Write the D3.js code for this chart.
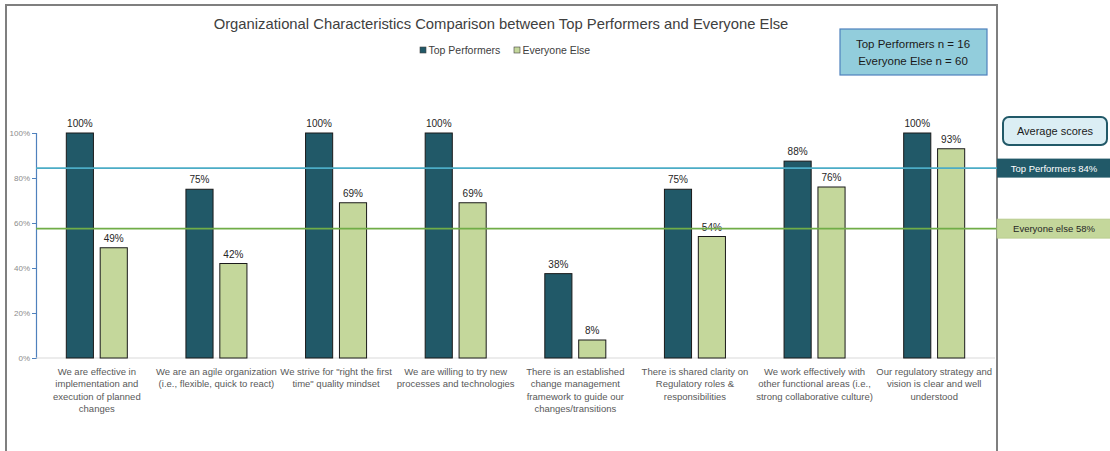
<!DOCTYPE html>
<html>
<head>
<meta charset="utf-8">
<script src="https://cdn.jsdelivr.net/npm/d3@7"></script>
<style>
  body { margin: 0; background: #fff; }
  svg { font-family: "Liberation Sans", Arial, sans-serif; }
</style>
</head>
<body>
<script>
// data
var categories = [
    ["We are effective in", "implementation and", "execution of planned", "changes"],
    ["We are an agile organization", "(i.e., flexible, quick to react)"],
    ["We strive for \"right the first", "time\" quality mindset"],
    ["We are willing to try new", "processes and technologies"],
    ["There is an established", "change management", "framework to guide our", "changes/transitions"],
    ["There is shared clarity on", "Regulatory roles &", "responsibilities"],
    ["We work effectively with", "other functional areas (i.e.,", "strong collaborative culture)"],
    ["Our regulatory strategy and", "vision is clear and well", "understood"]
];
var topPerformers = [100, 75, 100, 100, 37.5, 75, 87.5, 100];
var everyoneElse = [49, 42, 69, 69, 8, 54, 76, 93];
var seriesNames = ["Top Performers", "Everyone Else"];
var averages = [84.4, 57.5];
var averageLabels = ["Top Performers 84%", "Everyone else 58%"];
var yTicks = [0, 20, 40, 60, 80, 100];

var width = 1110, height = 451,
    color_top = "#215968", color_else = "#c4d79b",
    line_top = "#4bacc6", line_else = "#70ad47";

var svg = d3.select("body").append("svg")
    .attr("width", width)
    .attr("height", height);

// outer chart frame
svg.append("rect")
    .attr("x", 6).attr("y", 5)
    .attr("width", 991).attr("height", 470)
    .attr("fill", "#fff")
    .attr("stroke", "#7f7f7f")
    .attr("stroke-width", 2);

var xScale0 = d3.scaleBand().domain(d3.range(categories.length))
    .range([37, 994]).paddingInner(0.49).paddingOuter(0.245);
var xScale1 = d3.scaleBand().domain(["top", "else"])
    .range([0, xScale0.bandwidth()]).paddingInner(0.2).paddingOuter(0);
var yScale = d3.scaleLinear().domain([0, 100]).range([358, 133]);

// title
svg.append("text")
    .attr("x", 501).attr("y", 29)
    .attr("text-anchor", "middle")
    .style("font-size", "14.8px")
    .style("fill", "#404040")
    .text("Organizational Characteristics Comparison between Top Performers and Everyone Else");

// legend
var legend = svg.append("g").attr("transform", "translate(420,47)");
[color_top, color_else].forEach(function (c, i) {
    var lx = i === 0 ? 0 : 94;
    legend.append("rect")
        .attr("x", lx).attr("y", 0)
        .attr("width", 6).attr("height", 6)
        .attr("fill", c).attr("stroke", "#404040").attr("stroke-width", 0.6);
    legend.append("text")
        .attr("x", lx + 8.5).attr("y", 6.5)
        .style("font-size", "10.5px")
        .style("fill", "#404040")
        .text(seriesNames[i]);
});

// n box
var nBox = svg.append("g");
nBox.append("rect")
    .attr("x", 840).attr("y", 29)
    .attr("width", 147).attr("height", 46)
    .attr("fill", "#92cddc")
    .attr("stroke", "#4f81bd").attr("stroke-width", 1.2);
["Top Performers n = 16", "Everyone Else n = 60"].forEach(function (t, i) {
    nBox.append("text")
        .attr("x", 913).attr("y", 48 + i * 17)
        .attr("text-anchor", "middle")
        .style("font-size", "11.5px")
        .style("fill", "#1a1a1a")
        .text(t);
});

// y axis
var yAxis = d3.axisLeft(yScale).tickValues(yTicks).tickSize(4)
    .tickFormat(function (d) { return d + "%"; });
var yG = svg.append("g")
    .attr("transform", "translate(36,0)")
    .call(yAxis);
yG.select(".domain").attr("stroke", "#4f81bd").attr("stroke-width", 1.2);
yG.selectAll(".tick line").attr("stroke", "#4f81bd");
yG.selectAll(".tick text")
    .attr("x", -6)
    .style("font-size", "8px")
    .style("font-family", "Liberation Sans, Arial, sans-serif")
    .style("fill", "#8c8c8c");

// x axis baseline
svg.append("line")
    .attr("x1", 36).attr("x2", 995)
    .attr("y1", yScale(0)).attr("y2", yScale(0))
    .attr("stroke", "#d9d9d9").attr("stroke-width", 1);

var groups = svg.selectAll(".group")
    .data(categories.map(function (c, i) {
        return { i: i, top: topPerformers[i], else: everyoneElse[i] };
    }))
    .enter().append("g")
    .attr("class", "group")
    .attr("transform", function (d) { return "translate(" + xScale0(d.i) + ",0)"; });

/* bars */
[["top", color_top], ["else", color_else]].forEach(function (s) {
    groups.append("rect")
        .attr("x", xScale1(s[0]))
        .attr("y", function (d) { return yScale(d[s[0]]); })
        .attr("width", xScale1.bandwidth())
        .attr("height", function (d) { return yScale(0) - yScale(d[s[0]]); })
        .attr("fill", s[1])
        .attr("stroke", "#1a1a1a").attr("stroke-width", 1);
    groups.append("text")
        .attr("x", xScale1(s[0]) + xScale1.bandwidth() / 2)
        .attr("y", function (d) { return yScale(d[s[0]]) - 6; })
        .attr("text-anchor", "middle")
        .style("font-size", "10px")
        .style("fill", "#262626")
        .text(function (d) { return Math.round(d[s[0]]) + "%"; });
});

// category labels
groups.each(function (d) {
    var t = d3.select(this).append("text")
        .attr("text-anchor", "middle")
        .style("font-size", "9.5px")
        .style("fill", "#595959");
    categories[d.i].forEach(function (line, k) {
        t.append("tspan")
            .attr("x", xScale0.bandwidth() / 2)
            .attr("y", 374.5 + k * 12.5)
            .text(line);
    });
});

// average lines
svg.append("line")
    .attr("x1", 36).attr("x2", 997)
    .attr("y1", yScale(averages[0])).attr("y2", yScale(averages[0]))
    .attr("stroke", line_top).attr("stroke-width", 1.8);
svg.append("line")
    .attr("x1", 36).attr("x2", 997)
    .attr("y1", yScale(averages[1])).attr("y2", yScale(averages[1]))
    .attr("stroke", line_else).attr("stroke-width", 1.8);

// average labels on the right
svg.append("rect")
    .attr("x", 1003).attr("y", 117)
    .attr("width", 104).attr("height", 28)
    .attr("rx", 6)
    .attr("fill", "#dbeef4")
    .attr("stroke", color_top).attr("stroke-width", 2);
svg.append("text")
    .attr("x", 1055).attr("y", 135)
    .attr("text-anchor", "middle")
    .style("font-size", "11px")
    .style("fill", "#1a1a1a")
    .text("Average scores");

[[color_top, "#fff"], [color_else, "#262626"]].forEach(function (c, i) {
    var cy = yScale(averages[i]);
    svg.append("rect")
        .attr("x", 997).attr("y", cy - 9.5)
        .attr("width", 115).attr("height", 19)
        .attr("fill", c[0])
        .attr("stroke", i === 0 ? "none" : "#b5c98a").attr("stroke-width", 0.8);
    svg.append("text")
        .attr("x", 1054).attr("y", cy + 3.5)
        .attr("text-anchor", "middle")
        .style("font-size", "9.5px")
        .style("fill", c[1])
        .text(averageLabels[i]);
});
</script>
</body>
</html>
